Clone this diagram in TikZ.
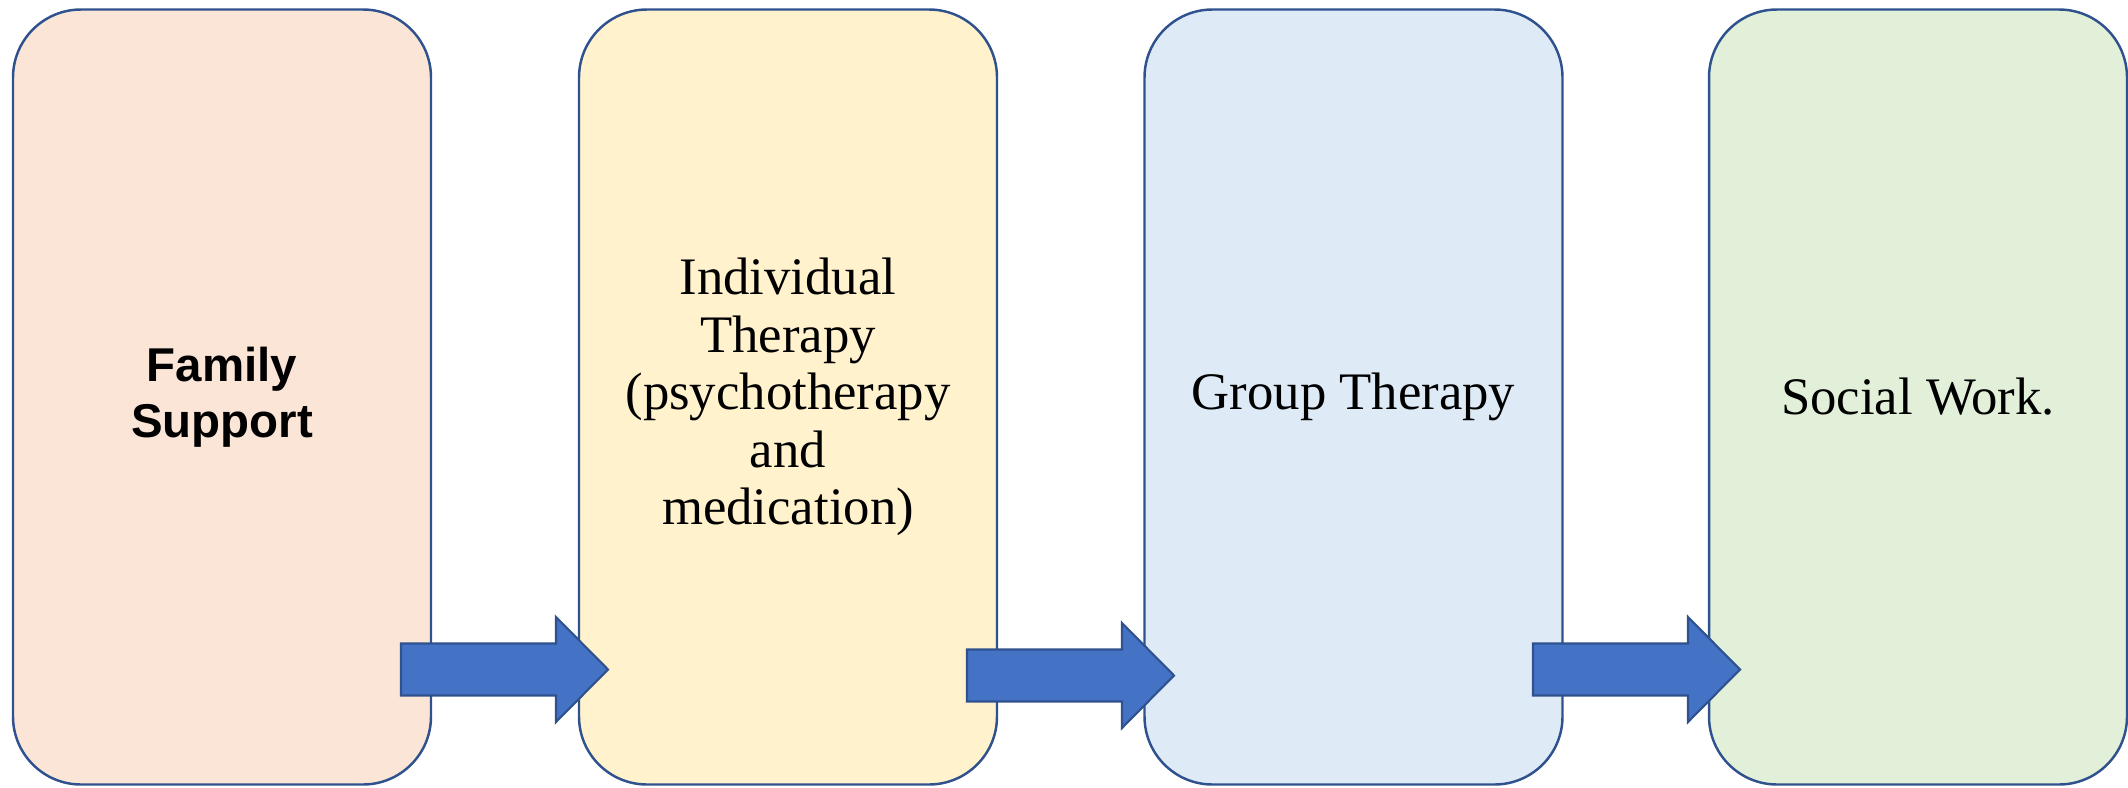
\documentclass[tikz,border=0pt]{standalone}
\usepackage{fontspec}
\setmainfont{Liberation Serif}
\setsansfont{Liberation Sans}
\definecolor{stageLine}{HTML}{2F528F}
\definecolor{familyBg}{HTML}{FBE5D6}
\definecolor{individualBg}{HTML}{FFF2CC}
\definecolor{groupBg}{HTML}{DEEBF7}
\definecolor{socialBg}{HTML}{E2F0D9}
\definecolor{arrowFill}{HTML}{4472C4}
\definecolor{arrowLine}{HTML}{2F528F}
% block arrow from the tail point #1
\newcommand{\passArrow}[1]{%
  \draw[passon] (#1) ++(0,-26) -- ++(155,0) -- ++(0,-26.5) -- ++(52,52.5)
    -- ++(-52,52.5) -- ++(0,-26.5) -- ++(-155,0) -- cycle;}

\begin{document}
\begin{tikzpicture}[
    x=0.1mm,y=-0.1mm,
    every node/.style={align=center},
    stage/.style={draw=stageLine,line width=0.7pt,rounded corners=6.8mm,minimum width=41.8mm,minimum height=77.5mm,outer sep=0pt,font=\fontsize{15}{16.4}\selectfont},
    passon/.style={draw=arrowLine,fill=arrowFill,line width=0.6pt}
]
\useasboundingbox (0,0) rectangle (2128,787);
\node[stage,fill=familyBg,font=\sffamily\bfseries\fontsize{13.5}{15.8}\selectfont] (family) at (222,397) {Family\\Support};
\node[stage,fill=individualBg] (individual) at (788,397) {Individual\\Therapy\\(psychotherapy\\and\\medication)};
\node[stage,fill=groupBg] (group) at (1353.5,397) {Group Therapy};
\node[stage,fill=socialBg] (social) at (1918,397) {Social Work.};
\coordinate (toIndividual) at (401,669.5);
\coordinate (toGroup) at (967,675.5);
\coordinate (toSocial) at (1533,669.5);
\passArrow{toIndividual}
\passArrow{toGroup}
\passArrow{toSocial}
\end{tikzpicture}
\end{document}
